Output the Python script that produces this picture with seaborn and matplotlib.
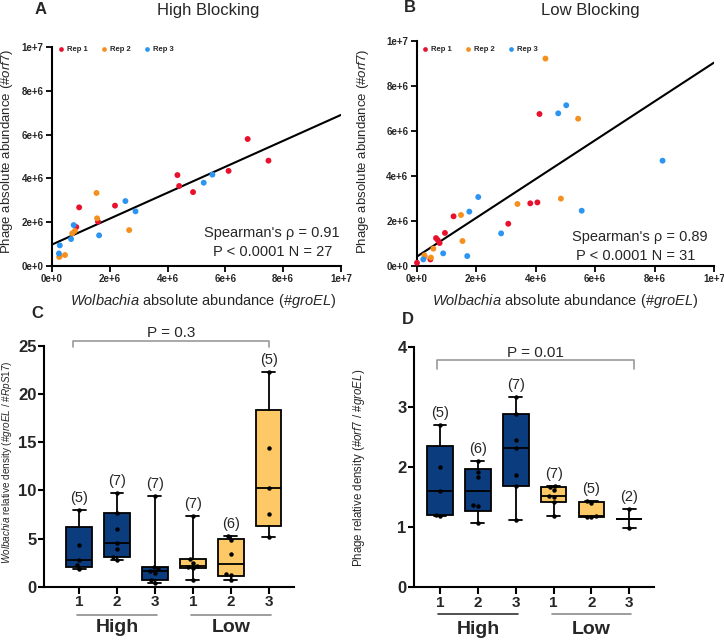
import numpy as np
import pandas as pd
import matplotlib
matplotlib.use("Agg")
import matplotlib.pyplot as plt
import matplotlib.transforms as mtransforms
from matplotlib.ticker import FuncFormatter
import seaborn as sns

# ---------------- data ----------------
# Panel A (High Blocking), values in units of 1e6
A_rep1_x = [0.94, 0.84, 1.59, 2.18, 4.34, 4.40, 4.88, 6.11, 6.77, 7.49]
A_rep1_y = [2.67, 1.77, 2.02, 2.75, 4.15, 3.65, 3.37, 4.34, 5.80, 4.81]
A_rep2_x = [1.54, 1.56, 2.67, 0.27, 0.45, 0.70, 0.79, 0.25]
A_rep2_y = [3.33, 2.17, 1.63, 0.44, 0.49, 1.48, 1.59, 0.40]
A_rep3_x = [0.27, 0.24, 0.66, 0.75, 1.63, 2.54, 2.89, 5.25, 5.55]
A_rep3_y = [0.93, 0.56, 1.22, 1.86, 1.39, 2.96, 2.49, 3.80, 4.17]
A_stats = ["Spearman's \u03c1 = 0.91", "P < 0.0001 N = 27"]

# Panel B (Low Blocking), values in units of 1e6
B_rep1_x = [0.01, 0.46, 0.65, 0.71, 0.77, 0.95, 1.24, 3.08, 3.82, 4.06, 4.13]
B_rep1_y = [0.13, 0.28, 1.23, 1.14, 1.01, 1.46, 2.20, 1.87, 2.78, 2.82, 6.76]
B_rep2_x = [0.26, 0.27, 0.48, 0.56, 1.49, 1.54, 3.39, 4.33, 4.85, 5.43]
B_rep2_y = [0.46, 0.40, 0.36, 0.76, 2.26, 1.10, 2.75, 9.23, 2.99, 6.55]
B_rep3_x = [0.22, 0.89, 1.70, 1.77, 2.07, 2.84, 4.76, 5.03, 5.55, 8.27]
B_rep3_y = [0.28, 0.55, 0.43, 2.41, 3.06, 1.44, 6.79, 7.15, 2.45, 4.68]
B_stats = ["Spearman's \u03c1 = 0.89", "P < 0.0001 N = 31"]

reps = ["Rep 1", "Rep 2", "Rep 3"]
rep_colors = ["#E8112D", "#F5901E", "#2C95F2"]

# Panels C / D
cat_labels = ["1", "2", "3", "1", "2", "3"]
group_names = ["High", "Low"]
C_values = [
    [1.84, 2.25, 2.74, 4.37, 7.97],
    [2.81, 3.05, 3.95, 4.50, 5.96, 7.69, 9.73],
    [0.38, 0.66, 1.47, 1.60, 1.85, 2.08, 9.46],
    [0.70, 1.95, 2.00, 2.10, 2.50, 2.85, 7.38],
    [0.66, 1.20, 1.35, 3.40, 4.90, 5.27],
    [5.16, 7.52, 10.25, 14.41, 22.27],
]
D_values = [
    [1.19, 1.21, 1.61, 2.00, 2.71],
    [1.07, 1.35, 1.37, 1.84, 1.92, 2.11],
    [1.13, 1.69, 1.87, 2.33, 2.45, 2.89, 3.17],
    [1.19, 1.42, 1.51, 1.53, 1.62, 1.67, 1.69],
    [1.17, 1.18, 1.19, 1.41, 1.44],
    [0.99, 1.30],
]
C_pvalue = "P = 0.3"
D_pvalue = "P = 0.01"
box_colors = ["#0B3D7E"] * 3 + ["#FCC966"] * 3

# ---------------- style ----------------
sns.set_style("ticks")
plt.rcParams["font.family"] = ["Liberation Sans", "DejaVu Sans"]
plt.rcParams["mathtext.fontset"] = "custom"
plt.rcParams["mathtext.rm"] = "Liberation Sans"
plt.rcParams["mathtext.it"] = "Liberation Sans:italic"
plt.rcParams["mathtext.bf"] = "Liberation Sans:bold"

W, H = 724, 640
fig = plt.figure(figsize=(W / 100, H / 100), dpi=100)


def rect(x0, x1, ytop, ybot):
    return [x0 / W, 1 - ybot / H, (x1 - x0) / W, (ybot - ytop) / H]


axA = fig.add_axes(rect(52, 341, 47.3, 265.7))
axB = fig.add_axes(rect(416.7, 714, 41.3, 265.7))
axC = fig.add_axes(rect(44.3, 294, 346, 586.7))
axD = fig.add_axes(rect(414.3, 654.3, 347.3, 587.3))


def sci_fmt(v, pos):
    s = f"{v:.0e}"
    return s.replace("e+0", "e+").replace("e-0", "e-")


def scatter_panel(ax, xs, ys, stats, stats_pos, leg_anchor, ylab_xy, xlab_xy):
    rows = []
    for r, xv, yv in zip(reps, xs, ys):
        for a, b in zip(xv, yv):
            rows.append({"x": a * 1e6, "y": b * 1e6, "rep": r})
    df = pd.DataFrame(rows)
    ax.set_xlim(0, 1e7)
    ax.set_ylim(0, 1e7)
    sns.regplot(data=df, x="x", y="y", scatter=False, ci=None, truncate=False,
                color="black", line_kws={"linewidth": 1.5}, ax=ax)
    sns.scatterplot(data=df, x="x", y="y", hue="rep", hue_order=reps,
                    palette=rep_colors, s=18, linewidth=0, ax=ax, zorder=3,
                    clip_on=False)
    ax.set_xlim(0, 1e7)
    ax.set_ylim(0, 1e7)
    ticks = np.arange(0, 1.01e7, 2e6)
    ax.set_xticks(ticks)
    ax.set_yticks(ticks)
    ax.xaxis.set_major_formatter(FuncFormatter(sci_fmt))
    ax.yaxis.set_major_formatter(FuncFormatter(sci_fmt))
    for lab in ax.get_xticklabels() + ax.get_yticklabels():
        lab.set_fontweight("bold")
        lab.set_fontsize(7)
    ax.tick_params(length=4, width=1.3, pad=2, color="black")
    sns.despine(ax=ax)
    for sp in ["left", "bottom"]:
        ax.spines[sp].set_linewidth(1.5)
        ax.spines[sp].set_color("black")
    ax.set_xlabel(r"$\it{Wolbachia}$ absolute abundance (#$\it{groEL}$)", fontsize=10.5)
    ax.set_ylabel(r"Phage absolute abundance (#$\it{orf7}$)", fontsize=9.5)
    ax.xaxis.set_label_coords(*xlab_xy)
    ax.yaxis.set_label_coords(*ylab_xy)
    (x1, y1), (x2, y2) = stats_pos
    ax.text(x1, y1, stats[0], transform=ax.transAxes, ha="center", va="center", fontsize=10.5)
    ax.text(x2, y2, stats[1], transform=ax.transAxes, ha="center", va="center", fontsize=10.5)
    sns.move_legend(ax, "upper left", bbox_to_anchor=leg_anchor, ncol=3, frameon=False,
                    title=None, prop={"weight": "bold", "size": 5.5},
                    handletextpad=0.3, columnspacing=1.6, handlelength=1.0,
                    borderaxespad=0, borderpad=0, markerscale=0.8)


scatter_panel(axA, [A_rep1_x, A_rep2_x, A_rep3_x], [A_rep1_y, A_rep2_y, A_rep3_y],
              A_stats, [(0.761, 0.148), (0.765, 0.064)], (0.017, 1.006),
              (-0.128, 0.523), (0.524, -0.119))
scatter_panel(axB, [B_rep1_x, B_rep2_x, B_rep3_x], [B_rep1_y, B_rep2_y, B_rep3_y],
              B_stats, [(0.75, 0.129), (0.737, 0.043)], (0.0145, 0.979),
              (-0.154, 0.509), (0.5, -0.116))


def box_stats(vals):
    v = np.asarray(vals, dtype=float)
    med = np.median(v)
    if len(v) < 3:
        # quartiles are not drawn for tiny groups: box collapses onto the median
        q1 = q3 = med
    else:
        q1, q3 = np.percentile(v, [25, 75], method="weibull")
    return {"med": med, "q1": q1, "q3": q3, "whislo": v.min(), "whishi": v.max(), "fliers": []}


def box_panel(ax, values, ymax, ystep, ylabel, ylab_xy, ylab_size, xlim, pval, br_x, br_y,
              br_tick, ptext_y, line_y, text_y, line_colors):
    names = [f"{g} {c}" for g, c in zip(["High"] * 3 + ["Low"] * 3, cat_labels)]
    rows = [{"group": n, "value": v} for n, vals in zip(names, values) for v in vals]
    df = pd.DataFrame(rows)
    pos = np.arange(len(values))
    lw = 1.3
    bp = ax.bxp([box_stats(v) for v in values], positions=pos, widths=0.68, capwidths=0.34,
                patch_artist=True, showfliers=False,
                boxprops=dict(edgecolor="black", linewidth=lw),
                medianprops=dict(color="black", linewidth=lw),
                whiskerprops=dict(color="black", linewidth=lw),
                capprops=dict(color="black", linewidth=lw))
    for patch, col in zip(bp["boxes"], box_colors):
        patch.set_facecolor(col)
    sns.swarmplot(data=df, x="group", y="value", order=names, color="black", size=3.2,
                  ax=ax, zorder=5)
    ax.set_xlim(*xlim)
    ax.set_ylim(0, ymax)
    ax.set_yticks(np.arange(0, ymax + 0.01, ystep))
    ax.set_xticks(pos)
    ax.set_xticklabels(cat_labels)
    ax.set_xlabel("")
    for lab in ax.get_yticklabels():
        lab.set_fontweight("bold")
        lab.set_fontsize(12)
    for lab in ax.get_xticklabels():
        lab.set_fontweight("bold")
        lab.set_fontsize(11)
    ax.tick_params(axis="y", length=4, width=1.5, pad=1.5, color="black")
    ax.tick_params(axis="x", length=5, width=1.5, pad=1, color="black")
    sns.despine(ax=ax)
    for sp in ["left", "bottom"]:
        ax.spines[sp].set_linewidth(1.5)
        ax.spines[sp].set_color("black")
    ax.set_ylabel(ylabel, fontsize=ylab_size)
    ax.yaxis.set_label_coords(*ylab_xy)
    # n labels
    for p, v in zip(pos, values):
        ax.annotate(f"({len(v)})", xy=(p, max(v)), xytext=(0, 12), textcoords="offset pixels",
                    ha="center", va="center", fontsize=10.5)
    # significance bracket
    ax.plot([br_x[0], br_x[0], br_x[1], br_x[1]], [br_tick, br_y, br_y, br_tick],
            color="#9a9a9a", linewidth=1.2, clip_on=False)
    ax.text((br_x[0] + br_x[1]) / 2, ptext_y, pval, ha="center", va="center", fontsize=11)
    # group labels
    tr = mtransforms.blended_transform_factory(ax.transData, ax.transAxes)
    for (a, b), name, col in zip([(-0.05, 2.05), (2.95, 5.05)], group_names, line_colors):
        ax.plot([a, b], [line_y, line_y], color=col, linewidth=1.2, transform=tr, clip_on=False)
        ax.text((a + b) / 2, text_y, name, transform=tr, ha="center", va="center",
                fontsize=14, fontweight="bold")


box_panel(axC, C_values, 25, 5,
          r"$\it{Wolbachia}$ relative density (#$\it{groEL}$ / #$\it{RpS17}$)", (-0.12, 0.516), 7.2,
          (-0.92, 5.67), C_pvalue, (-0.17, 5.01), 25.55, 24.93, 26.35, -0.1176, -0.169,
          ["#8c8c8c", "#8c8c8c"])
box_panel(axD, D_values, 4, 1,
          r"Phage relative density (#$\it{orf7}$ / #$\it{groEL}$)", (-0.198, 0.496), 8.3,
          (-0.68, 5.66), D_pvalue, (-0.07, 5.12), 3.79, 3.64, 3.90, -0.1125, -0.175,
          ["#333333", "#8c8c8c"])

# titles and panel letters
fig.text(208 / W, 1 - 11 / H, "High Blocking", ha="center", va="center", fontsize=12)
fig.text(590 / W, 1 - 10 / H, "Low Blocking", ha="center", va="center", fontsize=12)
for letter, (x, y) in zip("ABCD", [(41, 10), (409.5, 8), (37, 313), (407.7, 319)]):
    fig.text(x / W, 1 - y / H, letter, ha="center", va="center", fontsize=12, fontweight="bold")

fig.savefig("out.png", dpi=100)
